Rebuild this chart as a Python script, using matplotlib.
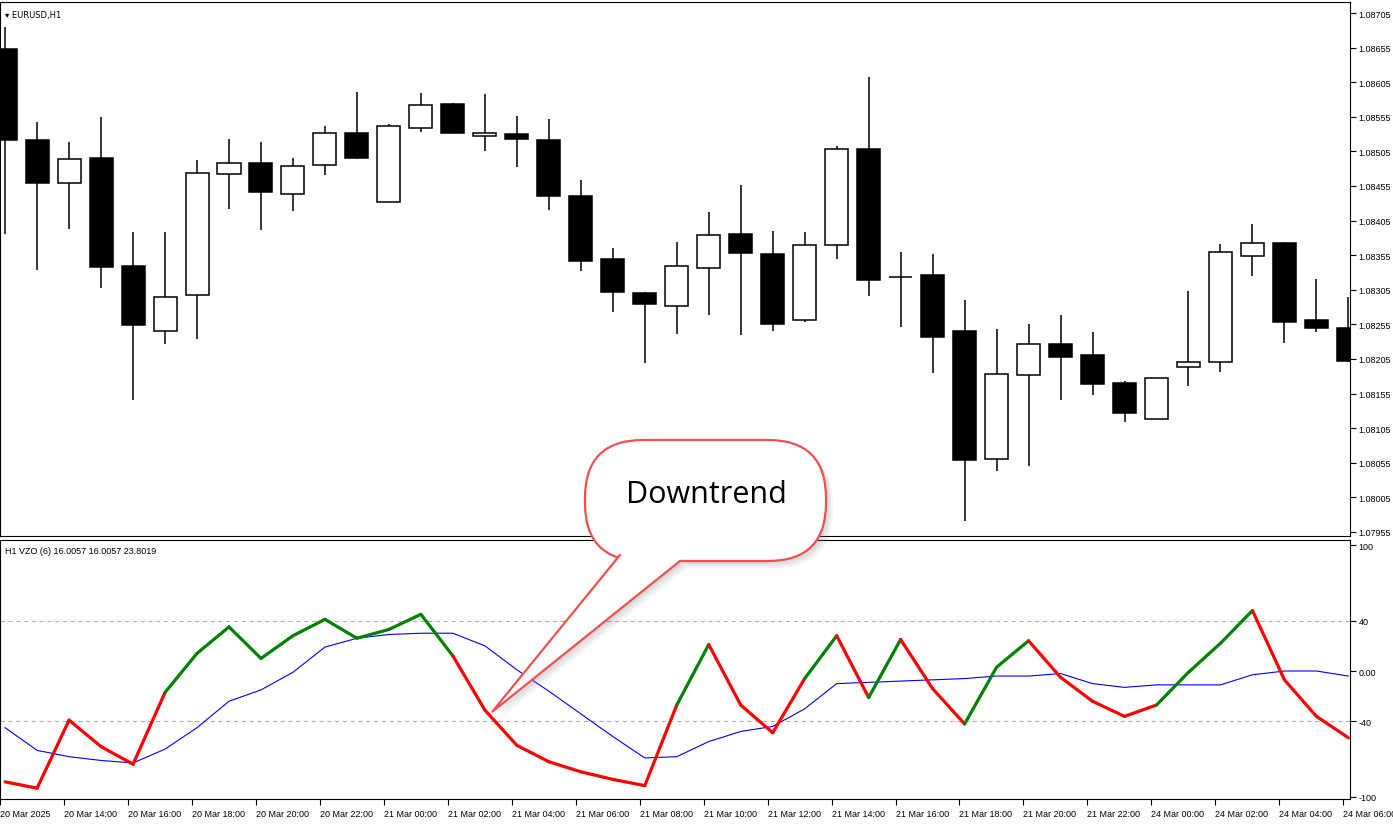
import matplotlib
matplotlib.use("Agg")
import matplotlib.pyplot as plt
import matplotlib.patches as mpatches
import numpy as np

# ── Данные: свечи EURUSD H1 ────────────────────────────────────────────────
opens = [1.08653, 1.08521, 1.08459, 1.08495, 1.08339, 1.08245, 1.08297, 1.08472, 1.08488, 1.08443,
         1.08485, 1.08532, 1.08432, 1.08539, 1.08573, 1.08527, 1.08530, 1.08521, 1.08441, 1.08349,
         1.08300, 1.08282, 1.08336, 1.08386, 1.08357, 1.08261, 1.08370, 1.08508, 1.08323, 1.08326,
         1.08245, 1.08061, 1.08182, 1.08227, 1.08211, 1.08170, 1.08118, 1.08193, 1.08201, 1.08354,
         1.08373, 1.08261, 1.08250]
highs = [1.08685, 1.08547, 1.08519, 1.08555, 1.08388, 1.08388, 1.08493, 1.08523, 1.08519, 1.08495,
         1.08542, 1.08591, 1.08545, 1.08589, 1.08575, 1.08588, 1.08556, 1.08552, 1.08464, 1.08365,
         1.08302, 1.08374, 1.08417, 1.08456, 1.08390, 1.08388, 1.08513, 1.08612, 1.08360, 1.08357,
         1.08290, 1.08248, 1.08256, 1.08269, 1.08244, 1.08173, 1.08178, 1.08303, 1.08371, 1.08400,
         1.08374, 1.08321, 1.08295]
lows = [1.08386, 1.08334, 1.08393, 1.08308, 1.08146, 1.08227, 1.08234, 1.08422, 1.08391, 1.08419,
        1.08471, 1.08494, 1.08432, 1.08533, 1.08530, 1.08506, 1.08482, 1.08420, 1.08332, 1.08273,
        1.08199, 1.08241, 1.08269, 1.08240, 1.08245, 1.08258, 1.08349, 1.08296, 1.08251, 1.08185,
        1.07970, 1.08043, 1.08050, 1.08146, 1.08153, 1.08114, 1.08118, 1.08166, 1.08186, 1.08325,
        1.08228, 1.08244, 1.08201]
closes = [1.08521, 1.08459, 1.08494, 1.08338, 1.08254, 1.08295, 1.08474, 1.08488, 1.08446, 1.08484,
          1.08532, 1.08495, 1.08542, 1.08572, 1.08532, 1.08532, 1.08523, 1.08441, 1.08347, 1.08302,
          1.08284, 1.08339, 1.08384, 1.08358, 1.08256, 1.08370, 1.08508, 1.08319, 1.08323, 1.08237,
          1.08059, 1.08183, 1.08227, 1.08208, 1.08169, 1.08127, 1.08178, 1.08201, 1.08360, 1.08373,
          1.08258, 1.08250, 1.08202]

# ── Данные: индикатор VZO (6) и сигнальная линия ───────────────────────────
vzo = [-88, -93, -39, -60, -74, -17, 14, 35, 10, 28,
       41, 26, 33, 45, 12, -31, -59, -72, -80, -86,
       -91, -27, 21, -27, -49, -6, 28, -21, 25, -14,
       -42, 3, 24, -5, -24, -36, -27, -1, 22, 48,
       -7, -36, -53]
signal = [-45, -63, -68, -71, -73, -62, -45, -24, -15, -1,
          19, 26, 29, 30, 30, 20, 1, -16, -34, -52,
          -69, -68, -56, -48, -44, -30, -10, -9, -8, -7,
          -6, -4, -4, -2, -10, -13, -11, -11, -11, -3,
          0, 0, -4]
# сегменты, где VZO окрашен зелёным (номер начальной точки сегмента)
green_segments = [5, 6, 7, 8, 9, 10, 11, 12, 13, 21, 25, 27, 30, 31, 36, 37, 38]

# подписи времени (каждые 2 часа)
time_labels = ["20 Mar 2025", "20 Mar 14:00", "20 Mar 16:00", "20 Mar 18:00", "20 Mar 20:00",
               "20 Mar 22:00", "21 Mar 00:00", "21 Mar 02:00", "21 Mar 04:00", "21 Mar 06:00",
               "21 Mar 08:00", "21 Mar 10:00", "21 Mar 12:00", "21 Mar 14:00", "21 Mar 16:00",
               "21 Mar 18:00", "21 Mar 20:00", "21 Mar 22:00", "24 Mar 00:00", "24 Mar 02:00",
               "24 Mar 04:00", "24 Mar 06:00"]

price_ticks = [1.07955 + 0.0005 * k for k in range(16)]
vzo_ticks = [100, 40, 0, -40, -100]
vzo_tick_labels = ["100", "40", "0.00", "-40", "-100"]

W, H = 1393, 829
plt.rcParams.update({"font.family": ["Liberation Sans", "DejaVu Sans"], "font.size": 6.5})
fig = plt.figure(figsize=(W / 100, H / 100), dpi=100)


def px_axes(x0, y0, x1, y1):
    return fig.add_axes([x0 / W, 1 - y1 / H, (x1 - x0) / W, (y1 - y0) / H])


XLIM = (-0.16, 42.05)
idx = np.arange(len(opens))

# ── Верхняя панель: свечи ──────────────────────────────────────────────────
ax = px_axes(0, 3, 1350, 537)
for i in idx:
    o, h, l, c = opens[i], highs[i], lows[i], closes[i]
    ax.vlines(i, l, h, color="black", lw=1.1, zorder=2)
    lo, hi = min(o, c), max(o, c)
    face = "black" if c < o else "white"
    if hi - lo < 1e-6:
        ax.hlines(o, i - 0.36, i + 0.36, color="black", lw=1.1, zorder=3)
    else:
        ax.add_patch(mpatches.Rectangle((i - 0.36, lo), 0.72, hi - lo, facecolor=face,
                                        edgecolor="black", lw=1.1, zorder=3))
ax.set_xlim(*XLIM)
ax.set_ylim(1.07949, 1.08721)
ax.set_xticks([])
ax.yaxis.tick_right()
ax.set_yticks(price_ticks)
ax.set_yticklabels([f"{p:.5f}" for p in price_ticks])
ax.tick_params(axis="y", direction="out", length=4, pad=2)
ax.text(0.004, 0.985, "\u25BE EURUSD,H1", transform=ax.transAxes, va="top",
        family=["DejaVu Sans"], fontsize=6)

# ── Нижняя панель: VZO ─────────────────────────────────────────────────────
ax2 = px_axes(0, 541, 1350, 800)
ax2.plot(idx, signal, color="#0000ff", lw=0.8, zorder=2)
for i in range(len(vzo) - 1):
    col = "#008000" if i in green_segments else "#ff0000"
    ax2.plot([i, i + 1], [vzo[i], vzo[i + 1]], color=col, lw=2.3,
             solid_capstyle="round", zorder=3)
for lvl in (40, -40):
    ax2.axhline(lvl, color="#b0b0b0", lw=0.8, ls=(0, (4, 3)), zorder=1)
ax2.set_xlim(*XLIM)
ax2.set_ylim(-101.6, 104)
ax2.yaxis.tick_right()
ax2.set_yticks(vzo_ticks)
ax2.set_yticklabels(vzo_tick_labels)
ax2.tick_params(axis="y", direction="out", length=4, pad=2)
ax2.set_xticks(np.arange(0, 43, 2) - 0.16)
ax2.set_xticklabels(time_labels, ha="left")
ax2.tick_params(axis="x", direction="out", length=4, pad=3)
ax2.text(0.004, 0.975, "H1 VZO (6) 16.0057 16.0057 23.8019", transform=ax2.transAxes,
         va="top")

# ── Выноска «Downtrend» (в пикселях фигуры) ────────────────────────────────
ov = fig.add_axes([0, 0, 1, 1], facecolor="none")
ov.set_xlim(0, W)
ov.set_ylim(H, 0)
ov.axis("off")

BX, BY, BW, BH = 585, 441, 241, 121
TIP = (492, 713)
BASE_L, BASE_R = (620, 556), (680, 562)
RED = "#f05050"

for off, alpha in ((7, 0.08), (5, 0.10), (3, 0.12)):
    ov.add_patch(mpatches.Polygon([(x + off, y + off) for x, y in (BASE_L, TIP, BASE_R)],
                                  closed=True, facecolor="gray", edgecolor="none", alpha=alpha))
    ov.add_patch(mpatches.FancyBboxPatch((BX + off, BY + off), BW, BH,
                                         boxstyle="round,pad=0,rounding_size=58",
                                         facecolor="gray", edgecolor="none", alpha=alpha))

ov.add_patch(mpatches.FancyBboxPatch((BX, BY), BW, BH,
                                     boxstyle="round,pad=0,rounding_size=58",
                                     facecolor="white", edgecolor=RED, lw=1.6, zorder=5))
ov.add_patch(mpatches.Polygon([BASE_L, TIP, BASE_R, (BASE_R[0], 553), (BASE_L[0] + 2, 549)],
                              closed=True, facecolor="white", edgecolor="none", zorder=6))
ov.plot([BASE_L[0], TIP[0], BASE_R[0]], [BASE_L[1], TIP[1], BASE_R[1]], color=RED, lw=1.6,
        zorder=7, solid_joinstyle="miter")
ov.text(706, 495, "Downtrend", fontsize=22, ha="center", va="center",
        family="Open Sans", zorder=8)

fig.savefig("out.png", dpi=100)
plt.close(fig)
